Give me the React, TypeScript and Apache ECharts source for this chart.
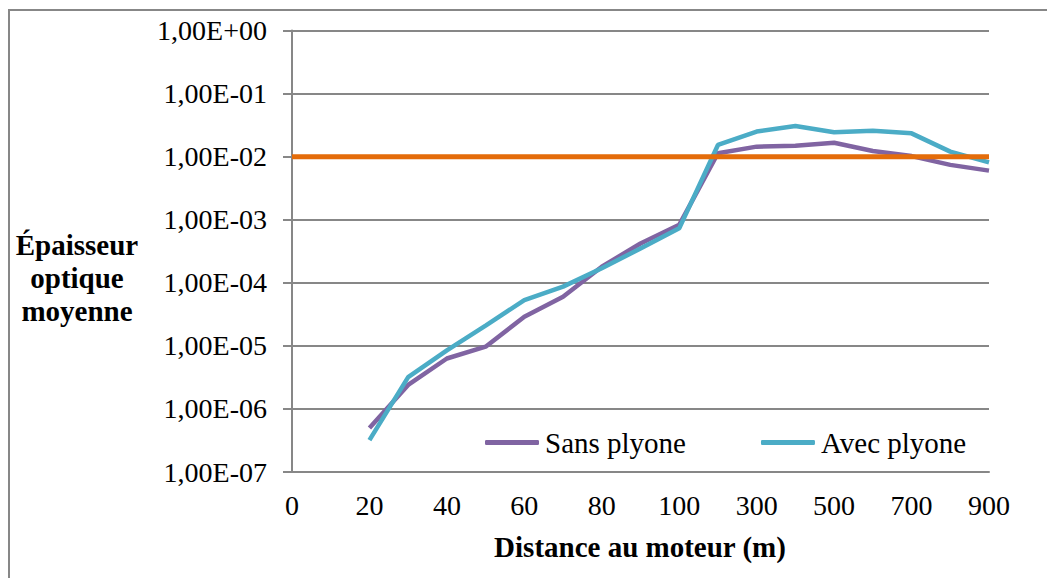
import React, { useEffect, useRef } from "react";
import * as echarts from "echarts";

const categories = ["0", "10", "20", "30", "40", "50", "60", "70", "80", "90", "100", "200", "300", "400", "500", "600", "700", "800", "900"];
const sansPlyone = [null, null, 5.0e-7, 2.4e-6, 6.3e-6, 9.7e-6, 2.9e-5, 6.0e-5, 1.8e-4, 4.2e-4, 8.3e-4, 1.13e-2, 1.44e-2, 1.49e-2, 1.66e-2, 1.23e-2, 1.02e-2, 7.4e-3, 6.0e-3];
const avecPlyone = [null, null, 3.2e-7, 3.2e-6, 8.5e-6, 2.1e-5, 5.3e-5, 8.7e-5, 1.7e-4, 3.5e-4, 7.3e-4, 1.53e-2, 2.5e-2, 3.06e-2, 2.43e-2, 2.58e-2, 2.34e-2, 1.2e-2, 8.1e-3];
const seuil = categories.map(() => 1e-2);
const seriesNames = ["Sans plyone", "Avec plyone"];
const yTitleLines = ["Épaisseur", "optique", "moyenne"];
const xTitle = "Distance au moteur (m)";

const FONT = "'Liberation Serif', 'Times New Roman', serif";

function fmtSci(v: number): string {
  const e = Math.round(Math.log10(v));
  const sign = e < 0 ? "-" : "+";
  const a = Math.abs(e);
  return "1,00E" + sign + (a < 10 ? "0" + a : String(a));
}

export default function App() {
  const ref = useRef<HTMLDivElement>(null);
  useEffect(() => {
    if (!ref.current) return;
    const chart = echarts.init(ref.current, null, { renderer: "svg" });
    const grey = "#878787";
    chart.setOption({
      animation: false,
      backgroundColor: "#fff",
      grid: { left: 292, right: 58, top: 30.5, bottom: 106, containLabel: false },
      legend: {
        data: seriesNames,
        left: 485,
        top: 428,
        padding: 0,
        icon: "roundRect",
        itemWidth: 54,
        itemHeight: 5,
        itemGap: 75,
        textStyle: { fontFamily: FONT, fontSize: 29, color: "#000", padding: [0, 0, 0, 1] },
      },
      xAxis: {
        type: "category",
        data: categories,
        boundaryGap: false,
        axisLine: { lineStyle: { color: grey, width: 2 } },
        axisTick: { show: false },
        axisLabel: { interval: 1, fontFamily: FONT, fontSize: 28, color: "#000", margin: 19 },
        splitLine: { show: false },
      },
      yAxis: {
        type: "log",
        logBase: 10,
        min: 1e-7,
        max: 1,
        axisLine: { show: true, lineStyle: { color: grey, width: 2 } },
        axisTick: { show: true, length: 9, lineStyle: { color: grey, width: 2 } },
        axisLabel: { formatter: (v: number) => fmtSci(v), fontFamily: FONT, fontSize: 28, color: "#000", margin: 25 },
        splitLine: { show: true, lineStyle: { color: grey, width: 2 } },
        minorTick: { show: false },
      },
      graphic: [
        {
          type: "rect",
          shape: { x: 9, y: 10, width: 1200, height: 800 },
          style: { fill: "none", stroke: grey, lineWidth: 2 },
          silent: true,
        },
        ...yTitleLines.map((t, i) => ({
          type: "text",
          x: 77,
          y: 245 + i * 33,
          style: {
            text: t,
            fontFamily: FONT,
            fontSize: 29,
            fontWeight: "bold",
            fill: "#000",
            align: "center",
            verticalAlign: "middle",
          },
        })),
        {
          type: "text",
          x: 640,
          y: 547,
          style: {
            text: xTitle,
            fontFamily: FONT,
            fontSize: 29,
            fontWeight: "bold",
            fill: "#000",
            align: "center",
            verticalAlign: "middle",
          },
        },
      ],
      series: [
        {
          name: "seuil",
          type: "line",
          data: seuil,
          symbol: "none",
          lineStyle: { color: "#E46C0A", width: 5 },
          itemStyle: { color: "#E46C0A" },
          z: 3,
        },
        {
          name: seriesNames[0],
          type: "line",
          data: sansPlyone,
          symbol: "none",
          lineStyle: { color: "#8064A2", width: 4.5 },
          itemStyle: { color: "#8064A2" },
          z: 2,
        },
        {
          name: seriesNames[1],
          type: "line",
          data: avecPlyone,
          symbol: "none",
          lineStyle: { color: "#4BACC6", width: 4.5 },
          itemStyle: { color: "#4BACC6" },
          z: 2,
        },
      ],
    });
    return () => chart.dispose();
  }, []);
  return <div ref={ref} style={{ position: "fixed", left: 0, top: 0, width: 1047, height: 578 }} />;
}
